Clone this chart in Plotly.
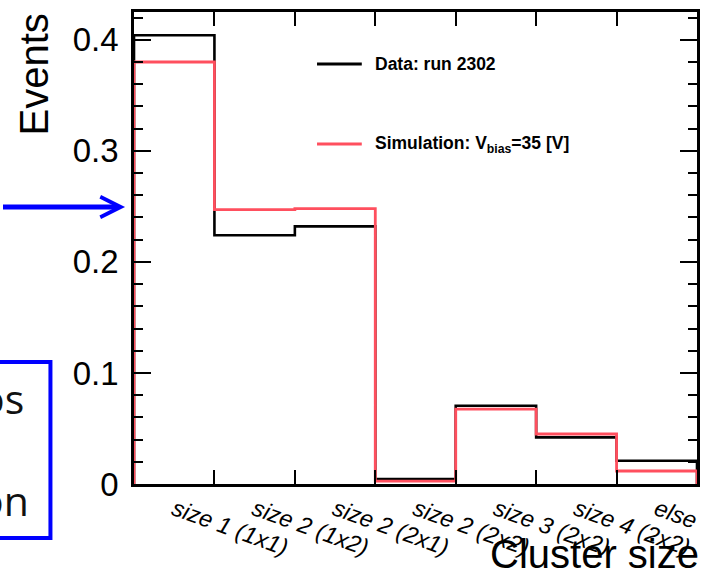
import plotly.graph_objects as go

# ---------------- data ----------------
categories = ["size 1 (1x1)", "size 2 (1x2)", "size 2 (2x1)", "size 2 (2x2)",
              "size 3 (2x2)", "size 4 (2x2)", "else"]
data_run2302 = [0.404, 0.224, 0.232, 0.0045, 0.0705, 0.042, 0.021]
sim_vbias35 = [0.380, 0.247, 0.248, 0.0025, 0.0675, 0.045, 0.0117]
series_names = ["Data: run 2302", "Simulation: V<sub>bias</sub>=35 [V]"]
y_tick_values = [0, 0.1, 0.2, 0.3, 0.4]
y_tick_labels = ["0", "0.1", "0.2", "0.3", "0.4"]

# ---------------- geometry helpers ----------------
W, H = 703, 573
L, R, T, B = 134, 3, 12, 89
pw, ph = W - L - R, H - T - B


def px(x):
    return (x - L) / pw


def py(y):
    return (H - B - y) / ph


def step(vals):
    xs, ys = [0], [0]
    for i, v in enumerate(vals):
        xs += [i, i + 1]
        ys += [v, v]
    xs.append(len(vals))
    ys.append(0)
    return xs, ys


FONT = "Liberation Sans, Arial, Helvetica, sans-serif"
RED = "#ff4f5e"

fig = go.Figure()
bx, by = step(data_run2302)
rx, ry = step(sim_vbias35)
fig.add_trace(go.Scatter(x=bx, y=by, mode="lines", name=series_names[0],
                         line=dict(color="black", width=2.6), xaxis="x", yaxis="y",
                         showlegend=False, hoverinfo="skip"))
fig.add_trace(go.Scatter(x=rx, y=ry, mode="lines", name=series_names[1],
                         line=dict(color=RED, width=2.8), xaxis="x2", yaxis="y",
                         showlegend=False, hoverinfo="skip"))

centers = [i + 0.5 for i in range(len(categories))]
edges = list(range(1, len(categories)))

fig.update_layout(
    width=W, height=H,
    margin=dict(l=L, r=R, t=T, b=B),
    paper_bgcolor="white", plot_bgcolor="white",
    font=dict(family=FONT, color="black"),
    xaxis=dict(range=[0, len(categories)], tickmode="array", tickvals=centers,
               ticktext=categories, tickangle=20, ticks="", showgrid=False,
               zeroline=False, showline=True, linewidth=2.6, linecolor="black",
               mirror=True, tickfont=dict(size=23.5, family=FONT, style="italic")),
    xaxis2=dict(range=[0, len(categories)], overlaying="x", side="bottom",
                tickmode="array", tickvals=edges, ticks="inside", ticklen=14,
                tickwidth=2.4, tickcolor="black", showticklabels=False,
                showgrid=False, zeroline=False, showline=True, linewidth=2.6,
                linecolor="black", mirror="ticks"),
    yaxis=dict(range=[0, 0.425], tickmode="array", tickvals=y_tick_values,
               ticktext=y_tick_labels, ticks="inside", ticklen=17, tickwidth=2.4,
               tickcolor="black", showgrid=False, zeroline=False, showline=True,
               linewidth=2.6, linecolor="black", mirror="ticks",
               tickfont=dict(size=33, family=FONT), ticklabelstandoff=6,
               minor=dict(tickmode="linear", tick0=0, dtick=0.02, ticks="inside",
                          ticklen=9, tickwidth=2.4, tickcolor="black", showgrid=False)),
)

shapes = []
annotations = []

# legend (manual, ROOT style)
leg_rows = [(64, "black", 3), (144, RED, 3)]
for (yy, col, wd), name in zip(leg_rows, series_names):
    shapes.append(dict(type="line", xref="paper", yref="paper",
                       x0=px(318), x1=px(363), y0=py(yy), y1=py(yy),
                       line=dict(color=col, width=wd)))
    annotations.append(dict(xref="paper", yref="paper", x=px(374), y=py(yy),
                            xanchor="left", yanchor="middle", showarrow=False,
                            text="<b>" + name + "</b>",
                            font=dict(size=17.5, family=FONT, color="black")))

# axis titles
annotations.append(dict(xref="paper", yref="paper", x=px(33), y=py(12),
                        xanchor="center", yanchor="top", textangle=-90,
                        showarrow=False, text="Events",
                        font=dict(size=40, family=FONT, color="black")))
annotations.append(dict(xref="paper", yref="paper", x=px(703), y=py(554),
                        xanchor="right", yanchor="middle", showarrow=False,
                        borderpad=0, text="Cluster size",
                        font=dict(size=40, family=FONT, color="black")))

# cropped slide elements on the left
annotations.append(dict(xref="paper", yref="paper", x=px(125), y=py(207),
                        ax=-135, ay=0, showarrow=True, arrowhead=5,
                        arrowwidth=5, arrowsize=0.8, arrowcolor="#0000ff",
                        text=" "))
shapes.append(dict(type="rect", xref="paper", yref="paper",
                   x0=px(-30), x1=px(50), y0=py(538), y1=py(362),
                   line=dict(color="#0000ff", width=4)))
annotations.append(dict(xref="paper", yref="paper", x=px(24), y=py(398),
                        xanchor="right", yanchor="middle", showarrow=False,
                        borderpad=0, text="os",
                        font=dict(size=41, family="Open Sans", color="#111")))
annotations.append(dict(xref="paper", yref="paper", x=px(29), y=py(500),
                        xanchor="right", yanchor="middle", showarrow=False,
                        borderpad=0, text="on",
                        font=dict(size=41, family="Open Sans", color="#111")))

fig.update_layout(shapes=shapes, annotations=annotations)
fig.write_html("out.html", config={"displayModeBar": False},
               post_script="document.body.style.margin='0';document.body.style.padding='0';")
